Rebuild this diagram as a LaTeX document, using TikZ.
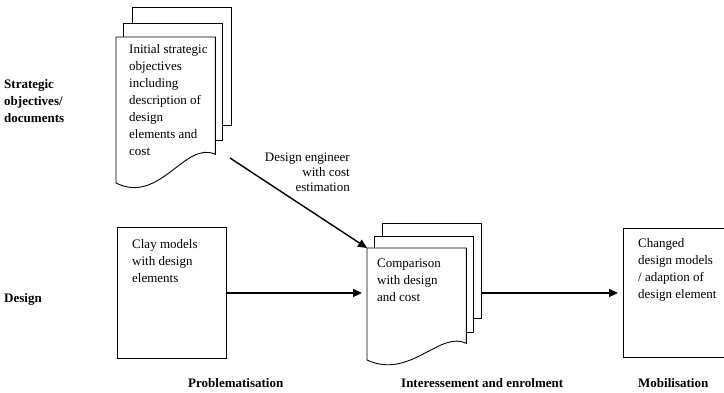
\documentclass[tikz,border=0pt]{standalone}
\usepackage{fontspec}
\setmainfont{Liberation Serif}
\usetikzlibrary{arrows.meta}
\tikzset{
  sheet/.style={draw, fill=white, line width=0.9pt, inner sep=0pt, minimum width=99pt, anchor=north west},
  box/.style={draw, line width=0.9pt, inner sep=0pt, anchor=north west},
  txt/.style={font=\fontsize{13}{17}\selectfont, align=left, inner sep=0pt, anchor=north west},
  lbl/.style={font=\fontsize{13}{17}\selectfont\bfseries, align=left, inner sep=0pt, anchor=north west},
  arr/.style={line width=1.4pt, -{Triangle[length=9pt,width=8pt]}}
}
\begin{document}
\begin{tikzpicture}[x=1pt,y=-1pt]
	\useasboundingbox (0,0) rectangle (724,393);
	% row labels
	\node[lbl] (strat) at (4,79) {Strategic\\objectives/\\documents};
	\node[lbl] (design) at (4,293) {Design};
	% strategic document stack
	\node[sheet, minimum height=118pt] (initback) at (132,7) {};
	\node[sheet, minimum height=117pt] (initmid) at (123,23) {};
	\node[inner sep=0pt, minimum width=99pt, minimum height=117pt, anchor=north west] (init) at (116,37) {};
	\draw[line width=0.9pt, fill=white] (init.south east) .. controls (185,140) and (160,205) .. (116,183)
		-- (init.north west) -- (init.north east) -- cycle;
	\node[txt] (inittxt) at (129,44) {Initial strategic\\objectives\\including\\description of\\design\\elements and\\cost};
	% clay models
	\node[box, minimum width=109pt, minimum height=131pt] (clay) at (117,227) {};
	\node[txt] (claytxt) at (132,239) {Clay models\\with design\\elements};
	% comparison stack
	\node[sheet, minimum height=95pt] (cmpback) at (382,223) {};
	\node[sheet, minimum height=96pt] (cmpmid) at (374,236) {};
	\node[inner sep=0pt, minimum width=99pt, minimum height=95pt, anchor=north west] (cmp) at (367,248) {};
	\draw[line width=0.9pt, fill=white] (cmp.south east) .. controls (440,330) and (410,380) .. (367,360)
		-- (cmp.north west) -- (cmp.north east) -- cycle;
	\node[txt] (cmptxt) at (377,259) {Comparison\\with design\\and cost};
	% changed models
	\node[box, minimum width=110pt, minimum height=129pt] (changed) at (623,228) {};
	\node[txt] (chgtxt) at (638,238) {Changed\\design models\\/ adaption of\\design element};
	% connectors
	\coordinate (dstart) at (230,158);
	\node[txt, align=right, anchor=north east, font=\fontsize{13}{15}\selectfont] (eng) at (350,153) {Design engineer\\with cost\\estimation};
	\draw[arr] (dstart) -- (cmp.north west);
	\draw[arr, shorten >=5pt] (clay.east) -- (clay.east -| cmp.west);
	\draw[arr, shorten >=5pt] (changed.west -| cmpback.east) -- (changed.west);
	% phases
	\node[lbl] (prob) at (188,378) {Problematisation};
	\node[lbl] (inter) at (401,378) {Interessement and enrolment};
	\node[lbl] (mob) at (638,378) {Mobilisation};
\end{tikzpicture}
\end{document}
